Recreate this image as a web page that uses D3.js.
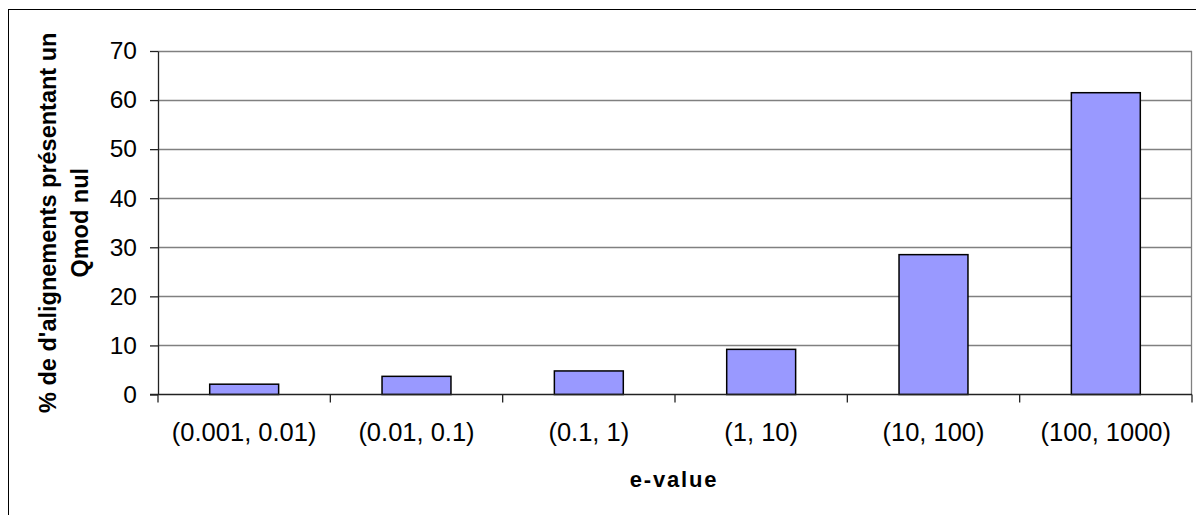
<!DOCTYPE html>
<html>
<head>
<meta charset="utf-8">
<script src="https://cdn.jsdelivr.net/npm/d3@7"></script>
<style>
  html, body { margin: 0; padding: 0; background: #fff; }
  svg { display: block; }
</style>
</head>
<body>
<svg id="chart" width="1196" height="515"></svg>
<script>
const categories = ["(0.001, 0.01)", "(0.01, 0.1)", "(0.1, 1)", "(1, 10)", "(10, 100)", "(100, 1000)"];
const values = [2.1, 3.7, 4.8, 9.2, 28.5, 61.5];
const yTicks = [0, 10, 20, 30, 40, 50, 60, 70];
const xTitle = "e-value";
const yTitleLines = ["% de d'alignements présentant un", "Qmod nul"];

const svg = d3.select("#chart");
const font = "'Liberation Sans', Arial, sans-serif";
const m = { left: 158, right: 1192, top: 51, bottom: 394.5 };

// outer frame
svg.append("rect").attr("x", 8.5).attr("y", 9.5).attr("width", 1200).attr("height", 520)
  .attr("fill", "#fff").attr("stroke", "#000").attr("stroke-width", 1);

const x = d3.scaleBand().domain(categories).range([m.left, m.right]).paddingInner(0.6).paddingOuter(0.3);
const xb = d3.scaleBand().domain(categories).range([m.left, m.right]).padding(0);
const y = d3.scaleLinear().domain([0, 70]).range([m.bottom, m.top]);

// gridlines
svg.append("g").selectAll("line").data(yTicks.filter(d => d > 0)).join("line")
  .attr("x1", m.left).attr("x2", m.right)
  .attr("y1", d => Math.round(y(d)) + 0.5).attr("y2", d => Math.round(y(d)) + 0.5)
  .attr("stroke", "#808080").attr("stroke-width", 1.3);

// right border of plot area
svg.append("line").attr("x1", m.right - 0.5).attr("x2", m.right - 0.5)
  .attr("y1", m.top).attr("y2", m.bottom).attr("stroke", "#808080").attr("stroke-width", 1.3);

// bars
svg.append("g").selectAll("rect").data(values).join("rect")
  .attr("x", (d, i) => x(categories[i]))
  .attr("y", d => y(d))
  .attr("width", x.bandwidth())
  .attr("height", d => y(0) - y(d))
  .attr("fill", "#9999FF").attr("stroke", "#000").attr("stroke-width", 1.5);

// y axis
const yAxis = d3.axisLeft(y).tickValues(yTicks).tickSize(8).tickPadding(13).tickSizeOuter(0);
const gy = svg.append("g").attr("transform", `translate(${m.left},0)`).call(yAxis);
gy.attr("font-size", null).attr("font-family", null);
gy.select(".domain").attr("stroke", "#222").attr("stroke-width", 1.3);
gy.selectAll(".tick line").attr("stroke", "#222").attr("stroke-width", 1.3);
gy.selectAll("text").style("font-family", font).style("font-size", "24.5px").attr("fill", "#000");

// x axis
const gx = svg.append("g").attr("transform", `translate(0,${m.bottom})`);
gx.append("line").attr("x1", m.left - 8).attr("x2", m.right).attr("y1", 0).attr("y2", 0)
  .attr("stroke", "#222").attr("stroke-width", 1.3);
const bounds = categories.map(c => xb(c)).concat([m.right]);
gx.selectAll("line.tk").data(bounds).join("line").attr("class", "tk")
  .attr("x1", d => d).attr("x2", d => d).attr("y1", 0).attr("y2", 8)
  .attr("stroke", "#222").attr("stroke-width", 1.3);
gx.selectAll("text").data(categories).join("text")
  .attr("x", d => xb(d) + xb.bandwidth() / 2)
  .attr("y", 46.5)
  .attr("text-anchor", "middle")
  .style("font-family", font).style("font-size", "25.5px").attr("fill", "#000")
  .text(d => d);

// x title
svg.append("text").attr("x", (m.left + m.right) / 2 - 1).attr("y", 487)
  .attr("text-anchor", "middle").style("font-family", font).style("font-size", "22px")
  .attr("font-weight", "bold").attr("letter-spacing", 1.8).text(xTitle);

// y title
const cy = (m.top + m.bottom) / 2;
const yt = svg.append("text").attr("transform", `translate(0,${cy}) rotate(-90)`)
  .attr("text-anchor", "middle").style("font-family", font).style("font-size", "23.5px")
  .attr("font-weight", "bold");
yTitleLines.forEach((t, i) => {
  yt.append("tspan").attr("x", 0).attr("y", 56 + i * 32).text(t);
});
</script>
</body>
</html>
